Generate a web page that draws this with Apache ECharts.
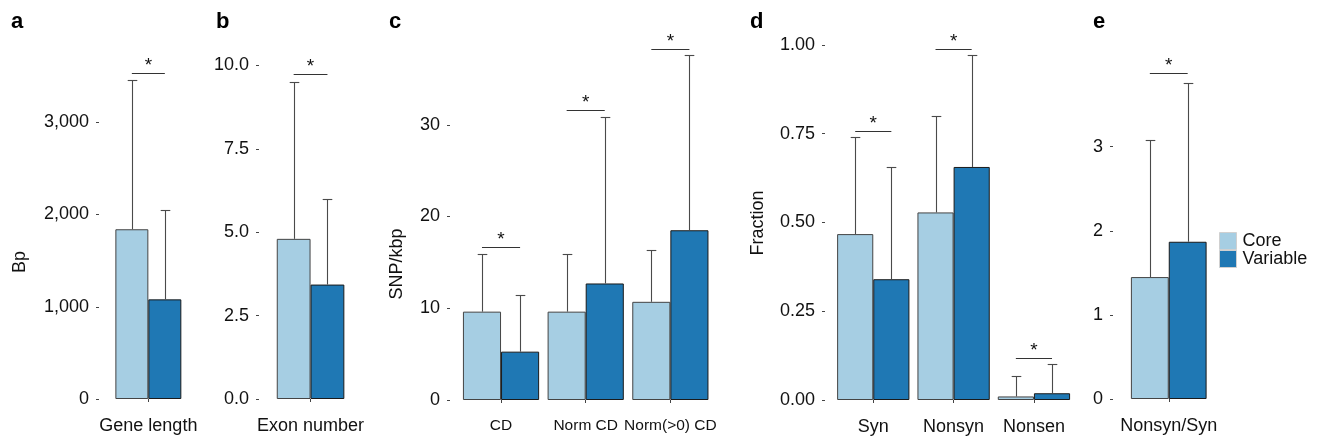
<!DOCTYPE html>
<html>
<head>
<meta charset="utf-8">
<script src="https://cdn.jsdelivr.net/npm/echarts@6/dist/echarts.min.js"></script>
<style>
  html, body { margin: 0; padding: 0; background: #fff; }
  #chart { width: 1320px; height: 441px; }
</style>
</head>
<body>
<div id="chart"></div>
<script>
// ---------- DATA ----------
const categoriesA = ['Gene length'];
const coreA = [1840];
const variableA = [1080];
const coreErrA = [3455];
const variableErrA = [2050];
const sigA = [3530];
const ticksA = [0, 1000, 2000, 3000];

const categoriesB = ['Exon number'];
const coreB = [4.8];
const variableB = [3.43];
const coreErrB = [9.51];
const variableErrB = [6.0];
const sigB = [9.74];
const ticksB = [0, 2.5, 5, 7.5, 10];

const categoriesC = ['CD', 'Norm CD', 'Norm(>0) CD'];
const coreC = [9.63, 9.63, 10.7];
const variableC = [5.27, 12.7, 18.5];
const coreErrC = [15.9, 15.9, 16.4];
const variableErrC = [11.45, 30.8, 37.6];
const sigC = [16.66, 31.6, 38.3];
const ticksC = [0, 10, 20, 30];

const categoriesD = ['Syn', 'Nonsyn', 'Nonsen'];
const coreD = [0.467, 0.528, 0.010];
const variableD = [0.340, 0.656, 0.019];
const coreErrD = [0.739, 0.799, 0.067];
const variableErrD = [0.656, 0.972, 0.100];
const sigD = [0.7586, 0.9887, 0.1175];
const ticksD = [0, 0.25, 0.5, 0.75, 1.0];

const categoriesE = ['Nonsyn/Syn'];
const coreE = [1.45];
const variableE = [1.87];
const coreErrE = [3.08];
const variableErrE = [3.76];
const sigE = [3.88];
const ticksE = [0, 1, 2, 3];

const panelLetters = ['a', 'b', 'c', 'd', 'e'];
const axisTitles = ['Bp', '', 'SNP/kbp', 'Fraction', ''];
const seriesNames = ['Core', 'Variable'];

// ---------- STYLE / LAYOUT ----------
const FONT = '"Liberation Sans", Arial, Helvetica, sans-serif';
const COL_CORE = '#a6cee3';
const COL_VAR = '#1f78b4';
const TXT = '#111';

const panels = [
  { cats: categoriesA, core: coreA, vari: variableA, coreErr: coreErrA, varErr: variableErrA, sig: sigA, ticks: ticksA,
    fmt: v => v.toLocaleString('en-US'), max: 4000,
    left: 111.7, width: 73.3, top: 30, bottom: 42, axisX: 99, xFont: 18 },
  { cats: categoriesB, core: coreB, vari: variableB, coreErr: coreErrB, varErr: variableErrB, sig: sigB, ticks: ticksB,
    fmt: v => v.toFixed(1), max: 11,
    left: 273, width: 75.1, top: 32, bottom: 42, axisX: 259, xFont: 18 },
  { cats: categoriesC, core: coreC, vari: variableC, coreErr: coreErrC, varErr: variableErrC, sig: sigC, ticks: ticksC,
    fmt: v => String(v), max: 40,
    left: 458.7, width: 254, top: 33, bottom: 41, axisX: 450, xFont: 15.5 },
  { cats: categoriesD, core: coreD, vari: variableD, coreErr: coreErrD, varErr: variableErrD, sig: sigD, ticks: ticksD,
    fmt: v => v.toFixed(2), max: 1.05,
    left: 833.1, width: 241, top: 27, bottom: 41, axisX: 825, xFont: 18 },
  { cats: categoriesE, core: coreE, vari: variableE, coreErr: coreErrE, varErr: variableErrE, sig: sigE, ticks: ticksE,
    fmt: v => String(v), max: 4.4,
    left: 1126.7, width: 84.1, top: 29, bottom: 42, axisX: 1113, xFont: 18 }
];

const letterPos = [[11, 22], [216, 22], [389, 22], [750, 22], [1093, 22]];
const titlePos = [[20, 262], null, [397, 264], [758, 223], null];

const grids = [], xAxes = [], yAxes = [], series = [];

function errRender(params, api) {
  const side = api.value(3);
  const base = api.coord([api.value(0), api.value(1)]);
  const top = api.coord([api.value(0), api.value(2)]);
  const band = api.size([1, 0])[0];
  const x = Math.round(base[0] + (side ? 0.225 : -0.225) * band) + 0.5;
  const yt = Math.round(top[1]) + 0.5;
  const st = { stroke: '#4a4a4a', lineWidth: 1.1 };
  return {
    type: 'group',
    children: [
      { type: 'line', shape: { x1: x, y1: base[1], x2: x, y2: yt }, style: st },
      { type: 'line', shape: { x1: x - 4.8, y1: yt, x2: x + 4.8, y2: yt }, style: st }
    ]
  };
}

function sigRender(params, api) {
  const p = api.coord([api.value(0), api.value(1)]);
  const band = api.size([1, 0])[0];
  const y = Math.round(p[1]) + 0.5;
  const x1 = p[0] - 0.225 * band, x2 = p[0] + 0.225 * band;
  return {
    type: 'group',
    children: [
      { type: 'line', shape: { x1: x1, y1: y, x2: x2, y2: y }, style: { stroke: '#333', lineWidth: 1.2 } },
      { type: 'text', x: p[0], y: y + 2,
        style: { text: '*', font: '19px ' + FONT, fill: TXT, align: 'center', verticalAlign: 'bottom' } }
    ]
  };
}

panels.forEach((p, i) => {
  grids.push({ left: p.left, width: p.width, top: p.top, bottom: p.bottom, containLabel: false });
  xAxes.push({
    type: 'category', gridIndex: i, data: p.cats, offset: 6,
    axisLine: { show: false },
    axisTick: { show: true, alignWithLabel: true, length: 3, interval: 0, lineStyle: { color: '#444' } },
    axisLabel: { interval: 0, fontSize: p.xFont, fontFamily: FONT, color: TXT, margin: 12 },
    splitLine: { show: false }
  });
  yAxes.push({
    type: 'value', gridIndex: i, min: 0, max: p.max, offset: p.left - p.axisX,
    axisLine: { show: false },
    axisTick: { show: true, length: 3, customValues: p.ticks, lineStyle: { color: '#444' } },
    axisLabel: { customValues: p.ticks, formatter: p.fmt, fontSize: 18, fontFamily: FONT, color: TXT, margin: 10 },
    splitLine: { show: false }
  });
  const barCommon = {
    type: 'bar', xAxisIndex: i, yAxisIndex: i, barGap: '0%', barCategoryGap: '10%',
    emphasis: { disabled: true }, animation: false
  };
  series.push(Object.assign({}, barCommon, {
    name: seriesNames[0], data: p.core,
    itemStyle: { color: COL_CORE, borderColor: '#444', borderWidth: 1 }
  }));
  series.push(Object.assign({}, barCommon, {
    name: seriesNames[1], data: p.vari,
    itemStyle: { color: COL_VAR, borderColor: '#1a1a1a', borderWidth: 1 }
  }));
  const errData = [];
  p.cats.forEach((c, k) => {
    errData.push([k, p.core[k], p.coreErr[k], 0]);
    errData.push([k, p.vari[k], p.varErr[k], 1]);
  });
  series.push({
    type: 'custom', name: 'err' + i, xAxisIndex: i, yAxisIndex: i, renderItem: errRender,
    data: errData, clip: false, animation: false, silent: true, z: 3
  });
  series.push({
    type: 'custom', name: 'sig' + i, xAxisIndex: i, yAxisIndex: i, renderItem: sigRender,
    data: p.cats.map((c, k) => [k, p.sig[k]]), clip: false, animation: false, silent: true, z: 3
  });
});

const graphics = [];
panelLetters.forEach((t, i) => {
  graphics.push({ type: 'text', x: letterPos[i][0], y: letterPos[i][1],
    style: { text: t, font: 'bold 22px ' + FONT, fill: '#000', align: 'left', verticalAlign: 'middle' } });
});
axisTitles.forEach((t, i) => {
  if (!t) return;
  graphics.push({ type: 'text', x: titlePos[i][0], y: titlePos[i][1], rotation: Math.PI / 2,
    style: { text: t, font: '18px ' + FONT, fill: TXT, align: 'center', verticalAlign: 'middle' } });
});

const chart = echarts.init(document.getElementById('chart'), null, { renderer: 'canvas' });
chart.setOption({
  animation: false,
  backgroundColor: '#fff',
  textStyle: { fontFamily: FONT },
  grid: grids,
  xAxis: xAxes,
  yAxis: yAxes,
  legend: {
    data: seriesNames, orient: 'vertical', left: 1219, top: 232, padding: 0,
    itemWidth: 17, itemHeight: 17, itemGap: 0, icon: 'rect', selectedMode: false,
    itemStyle: { borderColor: '#d0d0d0', borderWidth: 1 },
    textStyle: { fontSize: 18, lineHeight: 17, color: TXT, fontFamily: FONT, padding: [0, 0, 0, 1] }
  },
  graphic: graphics,
  series: series
});
</script>
</body>
</html>
